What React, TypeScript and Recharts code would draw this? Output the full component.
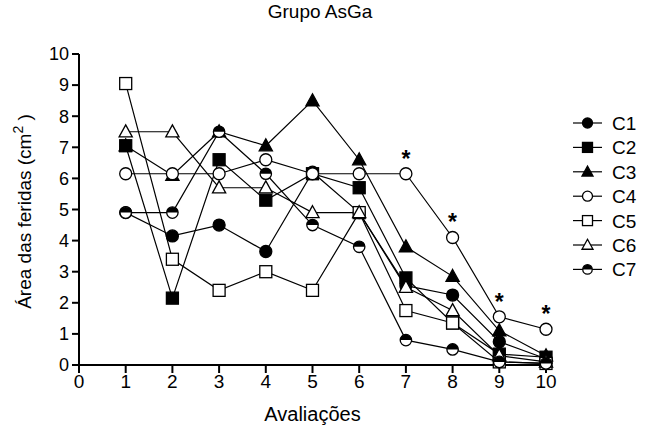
import React from 'react';
import { LineChart, Line, XAxis, YAxis, Label, LabelList } from 'recharts';

const avaliacoes = [1, 2, 3, 4, 5, 6, 7, 8, 9, 10];
const c1 = [4.9, 4.15, 4.5, 3.65, 6.2, 4.9, 2.55, 2.25, 0.75, 0.2];
const c2 = [7.05, 2.15, 6.6, 5.3, 6.15, 5.7, 2.8, 1.35, 0.35, 0.25];
const c3 = [7.05, 6.1, 7.5, 7.05, 8.5, 6.6, 3.8, 2.85, 1.1, 0.3];
const c4 = [6.15, 6.15, 6.15, 6.6, 6.15, 6.15, 6.15, 4.1, 1.55, 1.15];
const c5 = [9.05, 3.4, 2.4, 3.0, 2.4, 4.9, 1.75, 1.35, 0.1, 0.05];
const c6 = [7.5, 7.5, 5.7, 5.7, 4.9, 4.9, 2.5, 1.75, 0.3, 0.1];
const c7 = [4.9, 4.9, 7.5, 6.15, 4.5, 3.8, 0.8, 0.5, 0.1, 0.05];
const significant = [false, false, false, false, false, false, true, true, true, true];
const xTicks = [0, 1, 2, 3, 4, 5, 6, 7, 8, 9, 10];
const yTicks = [0, 1, 2, 3, 4, 5, 6, 7, 8, 9, 10];

const FONT = 'Arial, "Liberation Sans", sans-serif';

const data = avaliacoes.map((x, i) => ({
  x,
  C1: c1[i],
  C2: c2[i],
  C3: c3[i],
  C4: c4[i],
  C5: c5[i],
  C6: c6[i],
  C7: c7[i],
}));

type Shape = 'circle' | 'square' | 'triangle' | 'half';

function Marker({ cx, cy, shape, filled, r = 6 }: { cx: number; cy: number; shape: Shape; filled: boolean; r?: number }) {
  const fill = filled ? '#000' : '#fff';
  if (shape === 'circle') return <circle cx={cx} cy={cy} r={r} fill={fill} stroke="#000" strokeWidth={1.3} />;
  if (shape === 'square')
    return <rect x={cx - r} y={cy - r} width={r * 2} height={r * 2} fill={fill} stroke="#000" strokeWidth={1.3} />;
  if (shape === 'triangle')
    return (
      <polygon
        points={`${cx},${cy - r * 1.15} ${cx + r * 1.1},${cy + r * 0.85} ${cx - r * 1.1},${cy + r * 0.85}`}
        fill={fill}
        stroke="#000"
        strokeWidth={1.3}
      />
    );
  return (
    <g>
      <circle cx={cx} cy={cy} r={r * 0.95} fill="#fff" stroke="#000" strokeWidth={1.3} />
      <path d={`M ${cx - r * 0.95} ${cy} A ${r * 0.95} ${r * 0.95} 0 0 1 ${cx + r * 0.95} ${cy} Z`} fill="#000" />
    </g>
  );
}

const series: { key: string; shape: Shape; filled: boolean }[] = [
  { key: 'C1', shape: 'circle', filled: true },
  { key: 'C2', shape: 'square', filled: true },
  { key: 'C3', shape: 'triangle', filled: true },
  { key: 'C4', shape: 'circle', filled: false },
  { key: 'C5', shape: 'square', filled: false },
  { key: 'C6', shape: 'triangle', filled: false },
  { key: 'C7', shape: 'half', filled: true },
];

function Star(props: any) {
  const { x, y, index } = props;
  if (!significant[index]) return null;
  return (
    <text x={x} y={y - 7} textAnchor="middle" fontFamily={FONT} fontSize={23} fontWeight="bold" fill="#000">
      *
    </text>
  );
}

function YTitle(props: any) {
  const vb = props.viewBox;
  const cy = vb.y + vb.height / 2 + 2;
  const cx = 31;
  return (
    <text
      x={cx}
      y={cy}
      transform={`rotate(-90 ${cx} ${cy})`}
      textAnchor="middle"
      fontFamily={FONT}
      fontSize={19}
      fill="#000"
    >
      Área das feridas (cm<tspan dy={-8} fontSize={14}>2</tspan>
      <tspan dy={8}> )</tspan>
    </text>
  );
}

export default function App() {
  return (
    <div style={{ position: 'absolute', left: 0, top: 0, width: 658, height: 429, background: '#fff' }}>
      <div
        style={{
          position: 'absolute',
          left: 0,
          top: 1,
          width: 640,
          textAlign: 'center',
          fontFamily: FONT,
          fontSize: 19,
        }}
      >
        Grupo AsGa
      </div>
      <LineChart width={658} height={429} data={data} margin={{ top: 54, right: 112, bottom: 34, left: 29 }}>
        <XAxis
          dataKey="x"
          type="number"
          domain={[0, 10]}
          ticks={xTicks}
          interval={0}
          stroke="#000"
          strokeWidth={2}
          tickSize={8}
          tickMargin={2}
          height={30}
          tick={{ fill: '#000', fontSize: 19, fontFamily: FONT }}
        >
          <Label value="Avaliações" position="insideBottom" offset={-26} fill="#000" fontSize={20} fontFamily={FONT} />
        </XAxis>
        <YAxis
          type="number"
          domain={[0, 10]}
          ticks={yTicks}
          interval={0}
          width={50}
          stroke="#000"
          strokeWidth={2}
          tickSize={7}
          tickMargin={3}
          tick={{ fill: '#000', fontSize: 18, fontFamily: FONT }}
        >
          <Label content={<YTitle />} />
        </YAxis>
        {series.map((s) => (
          <Line
            key={s.key}
            dataKey={s.key}
            type="linear"
            stroke="#000"
            strokeWidth={1.2}
            isAnimationActive={false}
            dot={(p: any) => <Marker key={`${s.key}-${p.index}`} cx={p.cx} cy={p.cy} shape={s.shape} filled={s.filled} />}
            activeDot={false}
          >
            {s.key === 'C4' && <LabelList dataKey="C4" content={<Star />} />}
          </Line>
        ))}
      </LineChart>
      <svg style={{ position: 'absolute', left: 565, top: 105 }} width={93} height={180}>
        {series.map((s, i) => {
          const y = 18 + i * 24.4;
          return (
            <g key={s.key}>
              <line x1={8} x2={37} y1={y} y2={y} stroke="#000" strokeWidth={1.2} />
              <Marker cx={22.5} cy={y} shape={s.shape} filled={s.filled} r={5} />
              <text x={47} y={y + 7} fontFamily={FONT} fontSize={19} fill="#000">
                {s.key}
              </text>
            </g>
          );
        })}
      </svg>
    </div>
  );
}
